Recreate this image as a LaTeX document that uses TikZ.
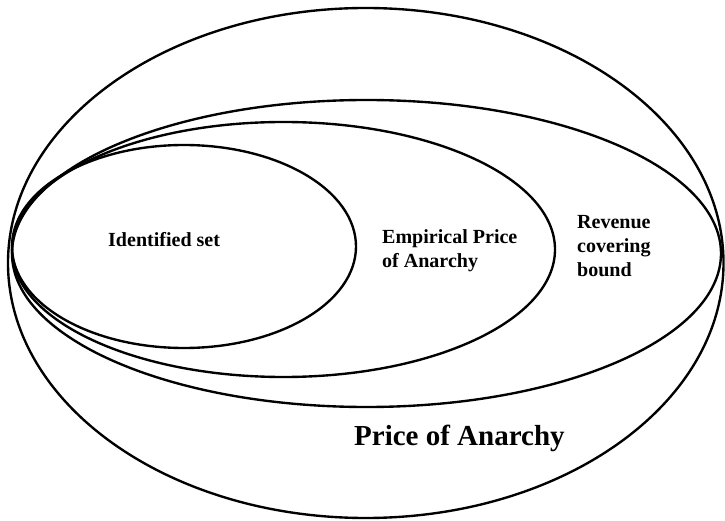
\documentclass[tikz,border=0pt]{standalone}
\usepackage{fontspec}
\setmainfont{Liberation Serif}
\tikzset{
	setline/.style={line width=2.7pt},
	setlabel/.style={inner sep=0pt, align=left, font=\bfseries\fontsize{22.8}{27.3}\selectfont},
	biglabel/.style={inner sep=0pt, font=\bfseries\fontsize{33}{38}\selectfont}
}

\begin{document}
\begin{tikzpicture}[scale=1.0]
	\useasboundingbox (0,0) rectangle (29,20.8);
	% price of anarchy (outer)
	\draw[setline] (14.63,10.28) ellipse [x radius=14.31, y radius=10.2];
	% revenue covering bound
	\draw[setline] (14.66,10.66) ellipse [x radius=14.18, y radius=6.14];
	% empirical price of anarchy
	\draw[setline] (11.34,10.82) ellipse [x radius=10.86, y radius=5.1];
	% identified set
	\draw[setline] (7.36,10.94) ellipse [x radius=6.88, y radius=4.06];
	% labels
	\node[setlabel, anchor=base west] (ident) at (4.32,10.92) {Identified set};
	\node[setlabel, anchor=west] (emp) at (15.28,10.77) {Empirical Price\\of Anarchy};
	\node[setlabel, anchor=west] (rev) at (23.08,10.97) {Revenue\\covering\\bound};
	\node[biglabel, anchor=base west] (poa) at (14.16,3.0) {Price of Anarchy};
\end{tikzpicture}
\end{document}
